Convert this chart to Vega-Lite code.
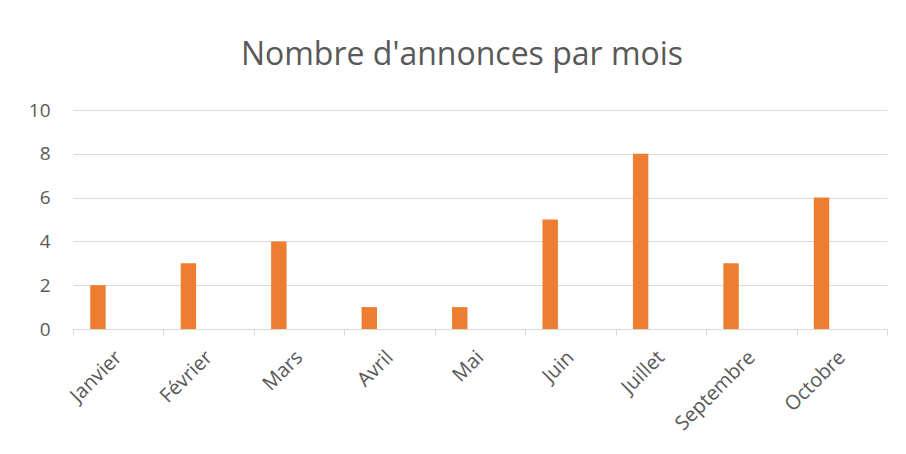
{
  "$schema": "https://vega.github.io/schema/vega-lite/v6.json",
  "autosize": {"type": "none"},
  "width": 814,
  "height": 219,
  "padding": {"left": 73, "top": 110, "right": 19, "bottom": 125},
  "background": "white",
  "title": {
    "text": "Nombre d'annonces par mois",
    "font": "Open Sans",
    "fontSize": 32,
    "fontWeight": "normal",
    "color": "#595959",
    "anchor": "middle",
    "frame": "group",
    "offset": 29,
    "dx": -18
  },
  "data": {
    "values": [
      {"mois": "Janvier", "serie": "Annonces", "n": 2},
      {"mois": "Février", "serie": "Annonces", "n": 3},
      {"mois": "Mars", "serie": "Annonces", "n": 4},
      {"mois": "Avril", "serie": "Annonces", "n": 1},
      {"mois": "Mai", "serie": "Annonces", "n": 1},
      {"mois": "Juin", "serie": "Annonces", "n": 5},
      {"mois": "Juillet", "serie": "Annonces", "n": 8},
      {"mois": "Septembre", "serie": "Annonces", "n": 3},
      {"mois": "Octobre", "serie": "Annonces", "n": 6}
    ]
  },
  "mark": {"type": "bar", "color": "#ED7D31"},
  "encoding": {
    "x": {
      "field": "mois",
      "type": "nominal",
      "sort": null,
      "scale": {"paddingInner": 0, "paddingOuter": 0},
      "axis": {
        "title": null,
        "labelAngle": -45,
        "labelAlign": "right",
        "labelBaseline": "middle",
        "labelFont": "Open Sans",
        "labelFontSize": 20,
        "labelColor": "#595959",
        "labelPadding": 19,
        "tickBand": "extent",
        "tickSize": 6,
        "tickColor": "#D9D9D9",
        "domainColor": "#D9D9D9",
        "grid": false
      }
    },
    "xOffset": {
      "field": "serie",
      "type": "nominal",
      "scale": {"paddingInner": 0.589, "paddingOuter": 1, "align": 0.23},
      "legend": null
    },
    "y": {
      "field": "n",
      "type": "quantitative",
      "scale": {"domain": [0, 10], "nice": false},
      "axis": {
        "title": null,
        "values": [0, 2, 4, 6, 8, 10],
        "domain": false,
        "ticks": false,
        "labelFont": "Open Sans",
        "labelFontSize": 19,
        "labelColor": "#595959",
        "labelPadding": 23,
        "gridColor": "#D9D9D9",
        "gridWidth": 1
      }
    }
  },
  "config": {"view": {"stroke": null}}
}
